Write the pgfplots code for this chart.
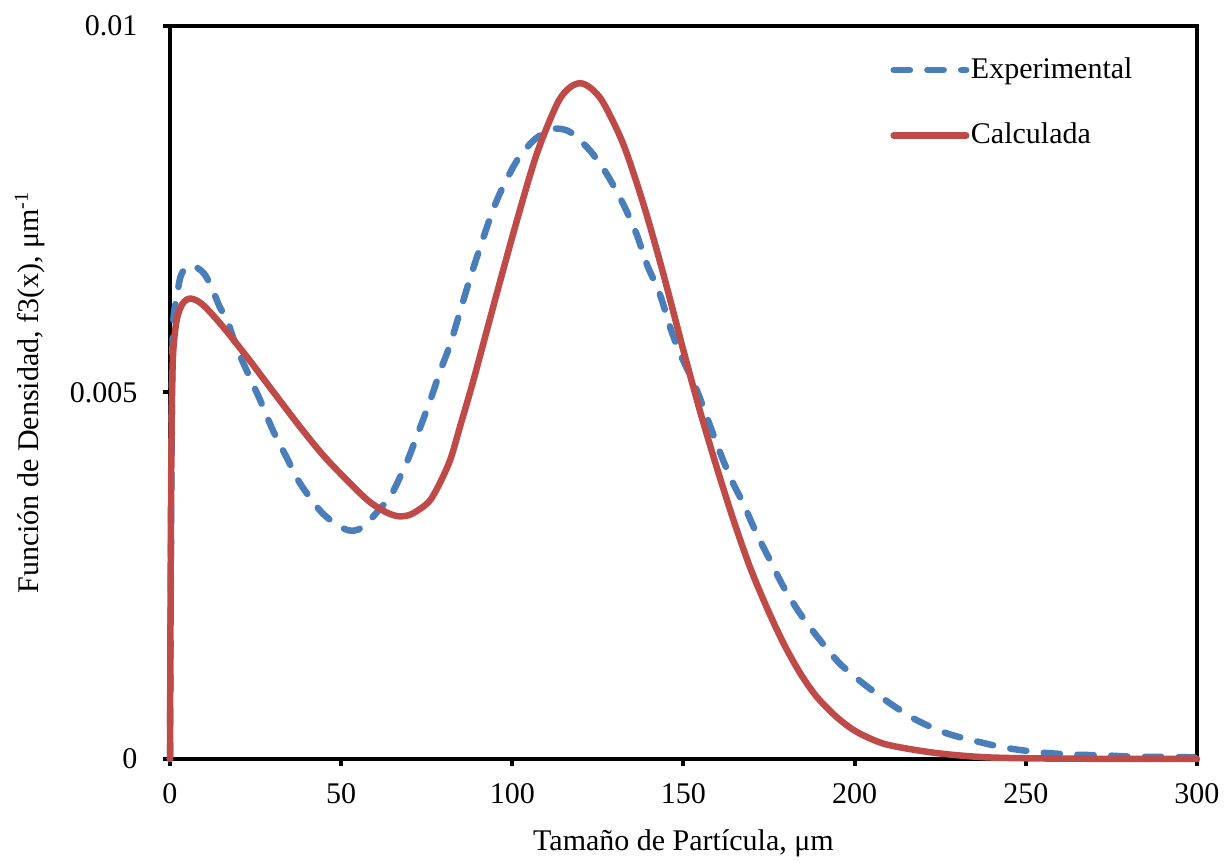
\documentclass[border=0pt]{standalone}
\usepackage{fontspec}
\setmainfont{Liberation Serif}
\usepackage{pgfplots}
\pgfplotsset{compat=1.18}
\definecolor{expblue}{HTML}{4A7EBB}
\definecolor{calcred}{HTML}{BE4B48}
\begin{document}
\fontsize{12pt}{14pt}\selectfont
\begin{tikzpicture}
\useasboundingbox (-68pt,-41.6pt) rectangle (422.8pt,303.6pt);
\begin{axis}[
  scale only axis,
  width=410.8pt, height=293.2pt,
  xmin=0, xmax=300, ymin=0, ymax=0.01,
  xtick={0,50,...,300},
  ytick={0,0.005,0.01},
  yticklabels={0,0.005,0.01},
  scaled y ticks=false,
  /pgf/number format/assume math mode=true,
  tick align=outside,
  major tick length=2.8pt,
  tick style={line width=1.6pt, black},
  axis line style={line width=1.6pt},
  xtick pos=bottom, ytick pos=left,
  tick label style={font=\fontsize{12pt}{14pt}\selectfont},
  xticklabel style={yshift=-3pt},
  yticklabel style={xshift=-6pt},
  xlabel={Tamaño de Partícula, μm},
  ylabel={Función de Densidad, f3(x), μm\textsuperscript{-1}},
  label style={font=\fontsize{12pt}{14pt}\selectfont},
  xlabel style={at={(axis description cs:0.5,-0.1146)}, anchor=center},
  ylabel style={at={(axis description cs:-0.1363,0.5)}, anchor=center},
  clip=false,
  legend cell align=left,
  legend image code/.code={\draw[#1] (0pt,0pt) -- (29pt,0pt);},
  legend style={draw=none, fill=none, at={(axis cs:210.3,0.0096)}, anchor=north west,
    inner sep=0pt, row sep=14.8pt, nodes={inner sep=0.6pt},
    font=\fontsize{12pt}{14pt}\selectfont},
]
\addplot[expblue, line width=2.6pt, line cap=round, line join=round, smooth, tension=0.5,
  dash pattern=on 6.5pt off 7pt] coordinates {
(0,0) (0.3,0.003) (0.6,0.0052) (1,0.006) (2,0.0063) (3,0.00657) (4.5,0.0067)
(6,0.00673) (8,0.0067) (10,0.00662) (12,0.00645) (14.6,0.00616) (16.6,0.006)
(19.5,0.00561) (22.4,0.0053) (26.3,0.0049) (30,0.00449) (34,0.00412) (38,0.00376)
(43.8,0.00339) (48,0.00322) (52,0.00312) (55,0.00313) (58.4,0.00326) (62,0.00345)
(64.3,0.00357) (69,0.00403) (72,0.00439) (76,0.00489) (79,0.0053) (81.8,0.00565)
(84.7,0.0061) (87.6,0.00655) (90.6,0.00698) (93.5,0.00738) (96.4,0.00772)
(101.3,0.00816) (106,0.00843) (110,0.00856) (113,0.0086) (117,0.00855)
(122.7,0.0083) (127.6,0.00798) (132.4,0.00757) (136.3,0.00716) (139.3,0.00675)
(143.1,0.00634) (146.1,0.00589) (149,0.00553) (153.9,0.00503) (159.7,0.0043)
(163.6,0.00385) (167.5,0.00348) (171.4,0.00307) (175.3,0.00271) (179.2,0.00235)
(184.1,0.00198) (189.9,0.00162) (195.7,0.0013) (202.5,0.00103) (210.3,0.00076)
(218.1,0.00053) (226.9,0.00035) (235.7,0.00024) (244.4,0.00015) (254.2,0.00009)
(263.8,0.00006) (272.6,0.00005) (282.5,0.00003) (291.2,0.00003) (300,0.00002)
};
\addlegendentry{Experimental}
\addplot[calcred, line width=2.6pt, line cap=round, line join=round, smooth, tension=0.5] coordinates {
(0,0) (0.3,0.0035) (0.6,0.005) (1,0.0056) (2,0.006) (3.5,0.0062) (5,0.00627)
(6.3,0.00628) (8,0.00625) (10,0.00618) (13,0.00603) (17,0.00581) (23.4,0.00543)
(30,0.00502) (38,0.00453) (45,0.00413) (52.6,0.00376) (58,0.00352) (62.2,0.00339)
(65,0.00333) (67.2,0.00331) (70,0.00333) (73,0.00341) (76,0.00353) (79,0.00378)
(82,0.0041) (85,0.00458) (88.6,0.00516) (95.4,0.00634) (101.3,0.00734)
(107.1,0.00825) (113,0.00893) (116.5,0.00915) (119.8,0.00922) (123,0.00915)
(126.6,0.00895) (132.4,0.00839) (138.3,0.00757) (144.1,0.00662) (150,0.00557)
(154.8,0.00475) (159.7,0.00398) (164.6,0.00326) (169.4,0.00262) (174.3,0.00207)
(179.2,0.00158) (184.1,0.00117) (188.9,0.00085) (194.8,0.00057) (200.6,0.00037)
(208.4,0.00021) (218.1,0.00012) (227.9,0.00006) (240,0.00002) (260,0.000005) (300,0)
};
\addlegendentry{Calculada}
\end{axis}
\end{tikzpicture}
\end{document}
